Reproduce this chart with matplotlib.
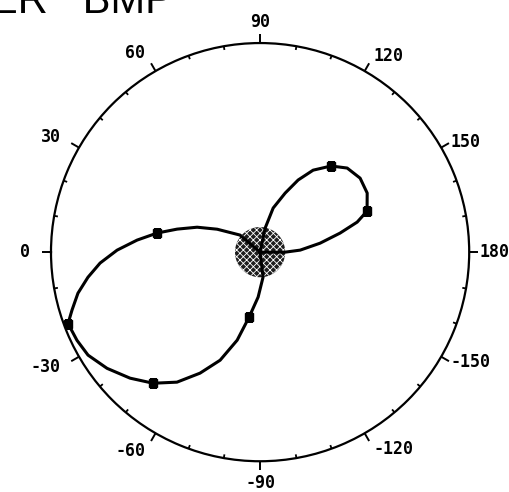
import numpy as np
import matplotlib
matplotlib.use('Agg')
import matplotlib.pyplot as plt

# Curve traced around the figure eight (angle in degrees as labelled, radius normalised to 1)
theta_curva = [101.8, 101.8, 106.5, 113.0, 117.8, 122.9, 129.5, 136.0, 143.5, 151.1,
               159.0, 162.8, 166.6, 171.5, 177.1, 180.0, 180.0,
               40.4, 40.4, 28.1, 21.6, 15.5, 10.5, 5.6, 0.8, -3.9, -8.3, -12.7,
               -17.1, -20.4, -25.7, -30.9, -37.2, -44.1, -50.8, -57.4, -63.6, -69.7,
               -75.4, -80.4, -87.5, -96.8, -96.8, 101.8]
r_curva = [0.0, 0.117, 0.220, 0.307, 0.390, 0.467, 0.534, 0.579, 0.595, 0.585,
           0.548, 0.486, 0.393, 0.290, 0.192, 0.120, 0.0,
           0.0, 0.126, 0.233, 0.324, 0.412, 0.501, 0.591, 0.684, 0.767, 0.832, 0.893,
           0.941, 0.980, 0.972, 0.959, 0.919, 0.866, 0.809, 0.738, 0.646, 0.551,
           0.435, 0.315, 0.215, 0.120, 0.0, 0.0]

# Square markers on the curve
theta_marcas = [129.5, 159.0, 10.5, -20.4, -50.8, -80.4]
r_marcas = [0.534, 0.548, 0.501, 0.980, 0.809, 0.315]

# Shaded zone around the centre
radio_sombra = 0.12

# Angle labels
angulos_etiq = [0, 30, 60, 90, 120, 150, 180, -150, -120, -90, -60, -30]
titulo = "ER   BMP"

plt.rcParams['hatch.linewidth'] = 0.6

fig = plt.figure(figsize=(5.10, 4.92), dpi=100)
ax = fig.add_axes([0.1, 0.061, 0.82, 0.853], projection='polar')
ax.set_theta_zero_location('W')
ax.set_theta_direction(-1)
ax.set_ylim(0, 1)
ax.set_yticks([])
ax.set_xticks([])
ax.grid(False)
ax.spines['polar'].set_linewidth(1.6)

# Ticks drawn by hand: majors every 30 outward, minors every 10 inward
mayores = np.deg2rad(np.arange(0, 360, 30))
menores = np.deg2rad([a for a in range(0, 360, 10) if a % 30 != 0])
ax.vlines(mayores, 1.0, 1.043, color='black', linewidth=1.4, clip_on=False)
ax.vlines(menores, 0.982, 1.0, color='black', linewidth=1.3, clip_on=False)

for a in angulos_etiq:
    phi = np.deg2rad(180 - a)
    c, s = np.cos(phi), np.sin(phi)
    if c < -0.2:
        ha, va, rr = 'right', 'center', 1.10
    elif c > 0.7:
        ha, va, rr = 'left', 'center', 1.05
    elif c > 0.2:
        ha, va, rr = 'left', 'center', 1.085
    else:
        ha, va, rr = 'center', ('bottom' if s > 0 else 'top'), 1.06
    ax.text(np.deg2rad(a), rr, str(a), ha=ha, va=va,
            fontsize=12, fontweight='bold', family='DejaVu Sans Mono', clip_on=False)

# Shaded centre
t = np.linspace(0, 2 * np.pi, 120)
ax.fill(t, np.full_like(t, radio_sombra), facecolor='#1e1e1e', edgecolor='white',
        hatch='xxxxx', linewidth=0, zorder=2)

ax.plot(np.deg2rad(theta_curva), r_curva, color='black', linewidth=2.2,
        solid_joinstyle='round', zorder=3)
ax.plot(np.deg2rad(theta_marcas), r_marcas, linestyle='none', marker='s',
        markersize=5.5, color='black', zorder=4)

fig.text(-10 / 510, 1 - 13 / 492, titulo, fontsize=30, family='Liberation Sans',
         va='baseline', ha='left')

fig.savefig('out.png', dpi=100)
